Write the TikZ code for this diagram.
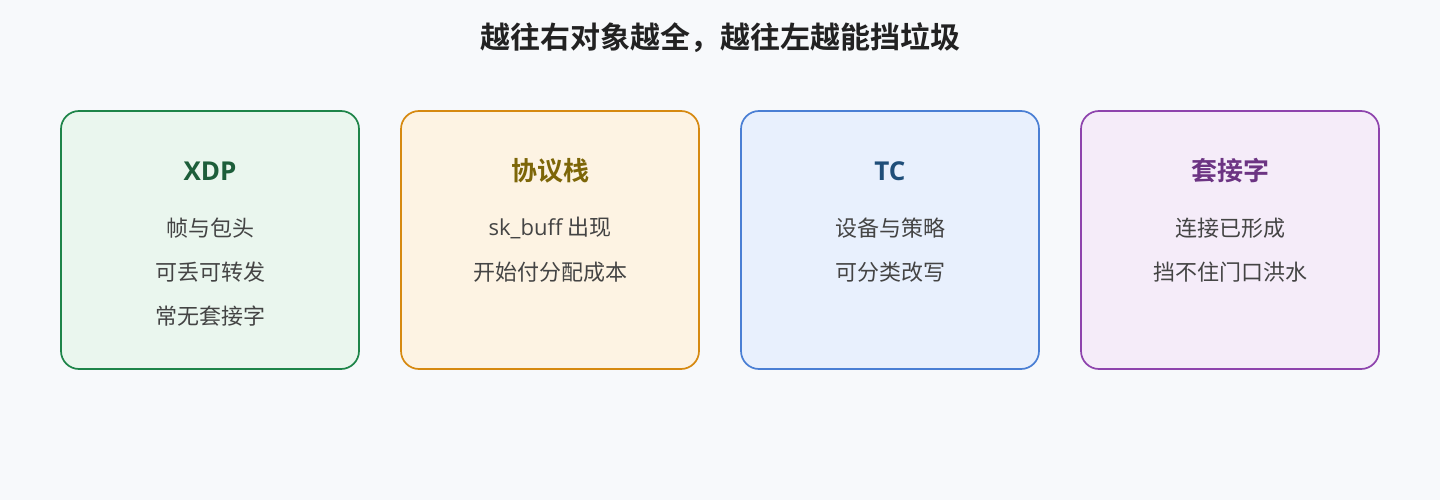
\documentclass[tikz,border=0pt]{standalone}
\usepackage{fontspec}
\setmainfont{Noto Sans CJK SC}
\newfontfamily\cjkbold{Noto Sans CJK SC Bold}
\newfontfamily\latin{Open Sans}
\definecolor{bg}{HTML}{F7F9FB}
\definecolor{txt}{HTML}{444444}
\definecolor{xdpline}{HTML}{1E8449}
\definecolor{xdpfill}{HTML}{EAF6EE}
\definecolor{xdptext}{HTML}{1D5E3A}
\definecolor{stkline}{HTML}{D68910}
\definecolor{stkfill}{HTML}{FDF3E3}
\definecolor{stktext}{HTML}{7D6608}
\definecolor{tcline}{HTML}{4A7FD4}
\definecolor{tcfill}{HTML}{E8F0FD}
\definecolor{tctext}{HTML}{1F4E79}
\definecolor{sockline}{HTML}{8E44AD}
\definecolor{sockfill}{HTML}{F5ECF9}
\definecolor{socktext}{HTML}{6C3483}
\tikzset{
  layer/.style={draw, rounded corners=18pt, line width=1.7pt,
    minimum width=298pt, minimum height=258pt, inner sep=0pt},
  head/.style={font=\fontsize{26pt}{30pt}\cjkbold},
  item/.style={text=txt, font=\fontsize{22pt}{26pt}\selectfont},
}
\begin{document}
\begin{tikzpicture}[x=1pt,y=-1pt]
  \fill[bg] (0,0) rectangle (1440,500);
  \useasboundingbox (0,0) rectangle (1440,500);
  \node (title) at (720,38) {\fontsize{30pt}{34pt}\cjkbold\color[HTML]{222222}越往右对象越全，越往左越能挡垃圾};
  % four layers, left to right
  \node[layer, draw=xdpline, fill=xdpfill] (xdp) at (210,240) {};
  \node[layer, draw=stkline, fill=stkfill] (stack) at (550,240) {};
  \node[layer, draw=tcline, fill=tcfill] (tc) at (890,240) {};
  \node[layer, draw=sockline, fill=sockfill] (sock) at (1230,240) {};
  % headings
  \node[head, text=xdptext] (xdphead) at (210,171) {\latin\bfseries XDP};
  \node[head, text=stktext] (stackhead) at (550,171) {协议栈};
  \node[head, text=tctext] (tchead) at (890,171) {\latin\bfseries TC};
  \node[head, text=socktext] (sockhead) at (1230,171) {套接字};
  % items
  \node[item] (xdp1) at (210,228) {帧与包头};
  \node[item] (xdp2) at (210,272) {可丢可转发};
  \node[item] (xdp3) at (210,316) {常无套接字};
  \node[item] (stack1) at (550,228) {{\latin sk\_buff} 出现};
  \node[item] (stack2) at (550,272) {开始付分配成本};
  \node[item] (tc1) at (890,228) {设备与策略};
  \node[item] (tc2) at (890,272) {可分类改写};
  \node[item] (sock1) at (1230,228) {连接已形成};
  \node[item] (sock2) at (1230,272) {挡不住门口洪水};
\end{tikzpicture}
\end{document}
